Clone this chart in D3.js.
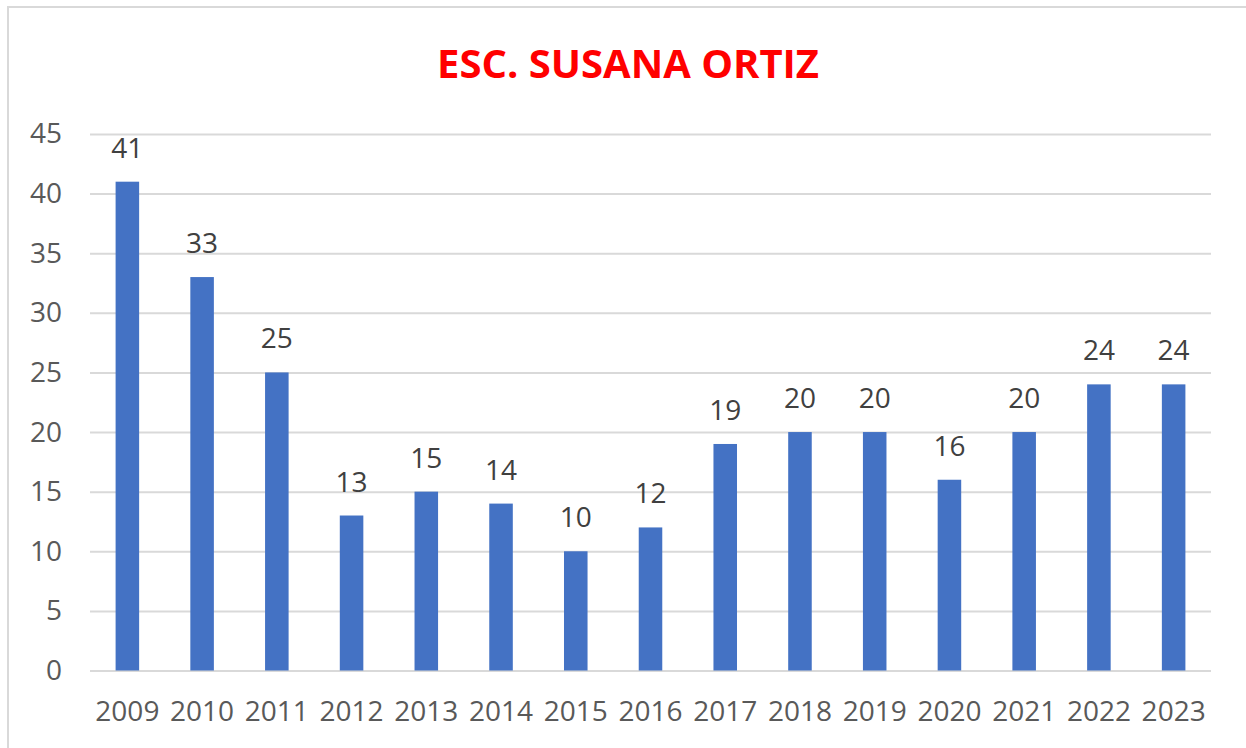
<!DOCTYPE html>
<html>
<head>
<meta charset="utf-8">
<script src="https://cdn.jsdelivr.net/npm/d3@7"></script>
<style>
  body { margin: 0; background: #fff; }
  svg { display: block; }
</style>
</head>
<body>
<main></main>
<script>
const years = ['2009', '2010', '2011', '2012', '2013', '2014', '2015', '2016',
  '2017', '2018', '2019', '2020', '2021', '2022', '2023'];
const values = [41, 33, 25, 13, 15, 14, 10, 12, 19, 20, 20, 16, 20, 24, 24];
const yTicks = [0, 5, 10, 15, 20, 25, 30, 35, 40, 45];
const title = 'ESC. SUSANA ORTIZ';

const dimensions = {
  width: 1246,
  height: 748,
  margin: { top: 134, right: 35, bottom: 77.5, left: 90 },
};
dimensions.boundedWidth =
  dimensions.width - (dimensions.margin.left + dimensions.margin.right);
dimensions.boundedHeight =
  dimensions.height - (dimensions.margin.top + dimensions.margin.bottom);

const font = '"Open Sans", "Liberation Sans", sans-serif';

const svg = d3.select('main')
  .append('svg')
  .attr('width', dimensions.width)
  .attr('height', dimensions.height);

// chart frame
svg.append('rect')
  .attr('x', 8)
  .attr('y', 7)
  .attr('width', 1260)
  .attr('height', 760)
  .attr('fill', 'none')
  .attr('stroke', '#d9d9d9')
  .attr('stroke-width', 2);

svg.append('text')
  .attr('x', 628)
  .attr('y', 78)
  .attr('text-anchor', 'middle')
  .attr('font-family', font)
  .attr('font-weight', 'bold')
  .attr('font-size', 40)
  .attr('fill', '#ff0000')
  .text(title);

const bounds = svg.append('g')
  .attr('transform', `translate(${dimensions.margin.left} ${dimensions.margin.top})`);

const xScale = d3.scaleBand()
  .domain(years)
  .range([0, dimensions.boundedWidth])
  .paddingInner(0.685)
  .paddingOuter(0.3425);

const yScale = d3.scaleLinear()
  .domain([0, 45])
  .range([dimensions.boundedHeight, 0]);

// gridlines + y labels
const yAxis = d3.axisLeft(yScale)
  .tickValues(yTicks)
  .tickSize(0)
  .tickPadding(28);

const yAxisGroup = bounds.append('g').call(yAxis);
yAxisGroup.select('.domain').remove();
yAxisGroup.selectAll('g.tick')
  .insert('path', 'text')
  .attr('d', `M 0 0 h ${dimensions.boundedWidth}`)
  .attr('stroke', '#d9d9d9')
  .attr('stroke-width', 2);
yAxisGroup.selectAll('text')
  .attr('fill', '#595959')
  .attr('font-family', font)
  .attr('font-size', 28);

// bars
bounds.append('g')
  .selectAll('rect')
  .data(values)
  .join('rect')
  .attr('x', (d, i) => xScale(years[i]))
  .attr('y', d => yScale(d))
  .attr('width', xScale.bandwidth())
  .attr('height', d => dimensions.boundedHeight - yScale(d))
  .attr('fill', '#4472c4');

// value labels
bounds.append('g')
  .selectAll('text')
  .data(values)
  .join('text')
  .attr('x', (d, i) => xScale(years[i]) + xScale.bandwidth() / 2)
  .attr('y', d => yScale(d) - 24)
  .attr('text-anchor', 'middle')
  .attr('font-family', font)
  .attr('font-size', 28)
  .attr('fill', '#404040')
  .text(d => d);

// x labels
const xAxis = d3.axisBottom(xScale)
  .tickSize(0)
  .tickPadding(31);

const xAxisGroup = bounds.append('g')
  .attr('transform', `translate(0 ${dimensions.boundedHeight})`)
  .call(xAxis);
xAxisGroup.select('.domain').remove();
xAxisGroup.selectAll('text')
  .attr('fill', '#595959')
  .attr('font-family', font)
  .attr('font-size', 28);
</script>
</body>
</html>
